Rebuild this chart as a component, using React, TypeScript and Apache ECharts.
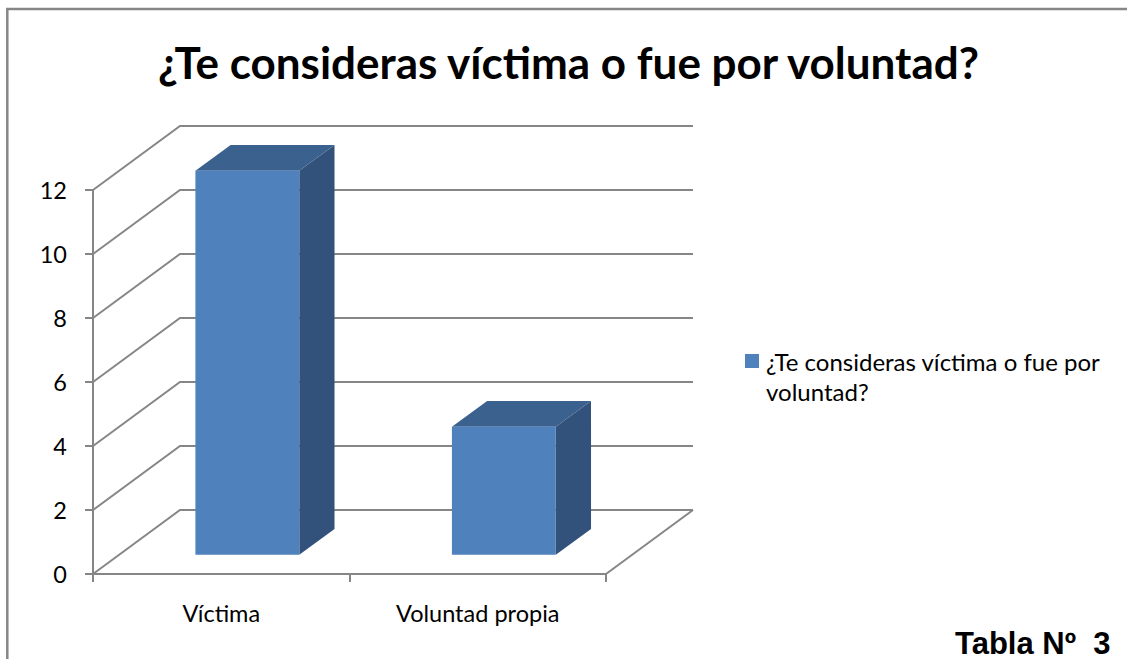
import React, { useEffect, useRef } from "react";
import * as echarts from "echarts";

const categories = ["Víctima", "Voluntad propia"];
const values = [12, 4];
const yTicks = [0, 2, 4, 6, 8, 10, 12];
const seriesName = "¿Te consideras víctima o fue por voluntad?";
const titleText = "¿Te consideras víctima o fue por voluntad?";
const legendLines = ["¿Te consideras víctima o fue por", "voluntad?"];
const footnote = "Tabla Nº  3";

const GRID_COLOR = "#868686";
const DEPTH_X = 87;
const DEPTH_Y = -64;
const BAR_FRONT = 0.3;
const BAR_BACK = 0.705;
const BAR_WIDTH = 0.405;

export default function App() {
  const ref = useRef<HTMLDivElement>(null);
  useEffect(() => {
    const chart = echarts.init(ref.current!, null, { renderer: "svg" });
    const labelFont = "Lato";
    chart.setOption({
      animation: false,
      backgroundColor: "#ffffff",
      title: {
        text: titleText,
        left: 153,
        top: 35,
        textStyle: { fontFamily: labelFont, fontWeight: "bold", fontSize: 44, color: "#000" },
      },
      grid: { left: 93, top: 190, width: 513, height: 384 },
      xAxis: {
        type: "category",
        data: categories,
        boundaryGap: true,
        axisLine: { show: true, lineStyle: { color: GRID_COLOR, width: 2 } },
        axisTick: { show: true, length: 8, lineStyle: { color: GRID_COLOR, width: 2 } },
        axisLabel: { fontFamily: labelFont, fontSize: 23.5, color: "#000", margin: 27 },
      },
      yAxis: {
        type: "value",
        min: 0,
        max: 12,
        interval: 2,
        axisLine: { show: true, lineStyle: { color: GRID_COLOR, width: 2 } },
        axisTick: { show: true, length: 8, lineStyle: { color: GRID_COLOR, width: 2 } },
        axisLabel: { fontFamily: labelFont, fontSize: 23.5, color: "#000", margin: 26 },
        splitLine: { show: false },
      },
      graphic: [
        {
          type: "polyline",
          shape: { points: [[7.3, 700], [7.3, 9], [1200, 9]] },
          style: { fill: "none", stroke: GRID_COLOR, lineWidth: 2.5 },
          silent: true,
        },
        {
          type: "rect",
          shape: { x: 745, y: 354, width: 14, height: 14 },
          style: { fill: "#4F81BD" },
        },
        {
          type: "text",
          x: 766,
          y: 346,
          style: {
            text: legendLines.join("\n"),
            fontFamily: labelFont,
            fontSize: 24,
            lineHeight: 30,
            fill: "#000",
            verticalAlign: "top",
          },
        },
        {
          type: "text",
          x: 955,
          y: 643,
          style: {
            text: footnote,
            fontFamily: "Liberation Sans",
            fontWeight: "bold",
            fontSize: 31,
            fill: "#000",
            verticalAlign: "middle",
          },
        },
      ],
      series: [
        {
          type: "custom",
          name: "walls",
          silent: true,
          z: 1,
          data: yTicks.map((v) => [0, v]),
          renderItem: (params: any, api: any) => {
            const v = api.value(1);
            const cs = params.coordSys;
            const y = api.coord([0, v])[1];
            const x0 = cs.x;
            const x1 = cs.x + cs.width;
            const style = { stroke: GRID_COLOR, lineWidth: 2, fill: "none" };
            const children: any[] = [
              {
                type: "polyline",
                shape: { points: [[x0, y], [x0 + DEPTH_X, y + DEPTH_Y], [x1 + DEPTH_X, y + DEPTH_Y]] },
                style,
              },
            ];
            if (v === 0) {
              children.push({
                type: "line",
                shape: { x1: x1, y1: y, x2: x1 + DEPTH_X, y2: y + DEPTH_Y },
                style,
              });
            }
            return { type: "group", children };
          },
        },
        {
          type: "custom",
          name: seriesName,
          z: 3,
          data: values.map((v, i) => [i, v]),
          renderItem: (params: any, api: any) => {
            const idx = api.value(0);
            const val = api.value(1);
            const base = api.coord([idx, 0]);
            const top = api.coord([idx, val]);
            const band = api.size([1, 0])[0];
            const w = band * BAR_WIDTH;
            const xl = base[0] - w / 2 + BAR_FRONT * DEPTH_X;
            const xr = xl + w;
            const yb = base[1] + BAR_FRONT * DEPTH_Y;
            const yt = top[1] + BAR_FRONT * DEPTH_Y;
            const dx = (BAR_BACK - BAR_FRONT) * DEPTH_X;
            const dy = (BAR_BACK - BAR_FRONT) * DEPTH_Y;
            return {
              type: "group",
              children: [
                {
                  type: "polygon",
                  shape: { points: [[xr, yt], [xr + dx, yt + dy], [xr + dx, yb + dy], [xr, yb]] },
                  style: { fill: "#32527B" },
                },
                {
                  type: "polygon",
                  shape: { points: [[xl, yt], [xr, yt], [xr + dx, yt + dy], [xl + dx, yt + dy]] },
                  style: { fill: "#3B618F" },
                },
                {
                  type: "rect",
                  shape: { x: xl, y: yt, width: w, height: yb - yt },
                  style: { fill: "#4F81BD" },
                },
              ],
            };
          },
        },
      ],
    });
    return () => chart.dispose();
  }, []);
  return (
    <div
      ref={ref}
      style={{ position: "absolute", left: 0, top: 0, width: 1127, height: 659 }}
    />
  );
}
